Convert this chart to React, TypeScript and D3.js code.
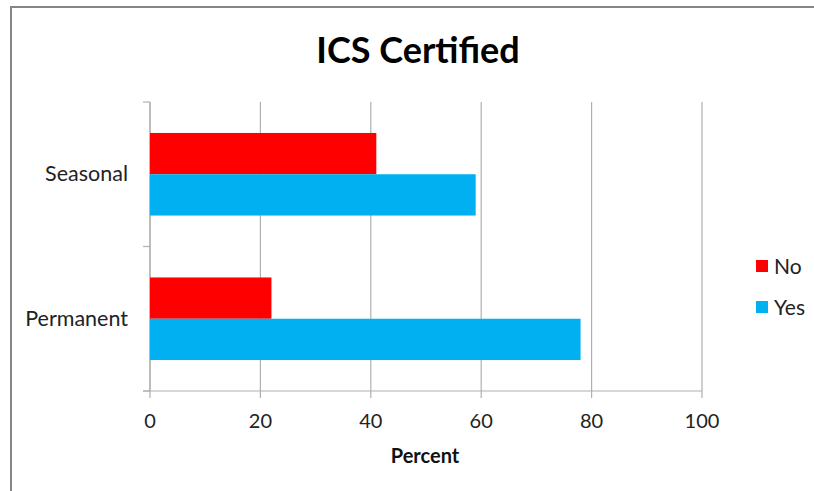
import { useEffect, useRef } from 'react';
import * as d3 from 'd3';

const categories = ['Seasonal', 'Permanent'];
const seriesNames = ['No', 'Yes'];
const noValues = [41, 22];
const yesValues = [59, 78];
const xTicks = [0, 20, 40, 60, 80, 100];

const colors: Record<string, string> = { No: '#FF0000', Yes: '#00B0F0' };
const FONT = 'Lato, "Open Sans", sans-serif';
const GRID = '#B0B0B0';

export default function App() {
  const svgRef = useRef<SVGSVGElement>(null);

  useEffect(() => {
    if (!svgRef.current) return;
    const svg = d3.select(svgRef.current);
    svg.selectAll('*').remove();

    const left = 150, right = 702, top = 102, bottom = 391;

    // outer chart border: only left and top edges are inside the crop
    svg.append('path')
      .attr('d', 'M11,491 L11,7 L814,7')
      .attr('fill', 'none')
      .attr('stroke', '#868686')
      .attr('stroke-width', 2);

    const x = d3.scaleLinear().domain([0, 100]).range([left, right]);
    const y = d3.scaleBand().domain(categories).range([top, bottom]);
    // gap width 150%: band = 2 bars + 1.5 bar
    const barH = y.bandwidth() / 3.5;
    const inner = d3.scaleBand().domain(seriesNames).range([0, barH * 2]);

    // gridlines
    xTicks.forEach(t => {
      svg.append('line')
        .attr('x1', x(t)).attr('x2', x(t))
        .attr('y1', top).attr('y2', bottom + 7)
        .attr('stroke', GRID).attr('stroke-width', 1.2);
    });

    // left axis line + ticks
    svg.append('line')
      .attr('x1', left).attr('x2', left).attr('y1', top).attr('y2', bottom)
      .attr('stroke', GRID).attr('stroke-width', 1.2);
    [top, ...categories.map(c => (y(c) as number) + y.bandwidth())].forEach(v => {
      svg.append('line')
        .attr('x1', left - 7).attr('x2', left).attr('y1', v).attr('y2', v)
        .attr('stroke', GRID).attr('stroke-width', 1.2);
    });

    // bars
    const rows = categories.map((c, i) => ({ cat: c, No: noValues[i], Yes: yesValues[i] }));
    rows.forEach(r => {
      const y0 = (y(r.cat) as number) + (y.bandwidth() - barH * 2) / 2;
      seriesNames.forEach(s => {
        svg.append('rect')
          .attr('x', x(0))
          .attr('y', y0 + (inner(s) as number))
          .attr('width', x((r as any)[s]) - x(0))
          .attr('height', inner.bandwidth())
          .attr('fill', colors[s]);
      });
    });

    // bottom axis line
    svg.append('line')
      .attr('x1', left - 7).attr('x2', right).attr('y1', bottom).attr('y2', bottom)
      .attr('stroke', GRID).attr('stroke-width', 1.2);

    // tick labels
    xTicks.forEach(t => {
      svg.append('text')
        .attr('x', x(t)).attr('y', 428)
        .attr('text-anchor', 'middle')
        .attr('font-family', FONT).attr('font-size', 20)
        .attr('fill', '#222')
        .text(String(t));
    });

    categories.forEach(c => {
      svg.append('text')
        .attr('x', 128)
        .attr('y', (y(c) as number) + y.bandwidth() / 2 + 7)
        .attr('text-anchor', 'end')
        .attr('font-family', FONT).attr('font-size', 21.5)
        .attr('fill', '#222')
        .text(c);
    });

    // title
    svg.append('text')
      .attr('x', 418).attr('y', 63)
      .attr('text-anchor', 'middle')
      .attr('font-family', FONT).attr('font-size', 36).attr('font-weight', 700)
      .attr('fill', '#000')
      .text('ICS Certified');

    // axis title
    svg.append('text')
      .attr('x', 425).attr('y', 463)
      .attr('text-anchor', 'middle')
      .attr('font-family', FONT).attr('font-size', 20).attr('font-weight', 700)
      .attr('fill', '#111')
      .text('Percent');

    // legend
    const legend = svg.append('g').attr('transform', 'translate(756, 260)');
    seriesNames.forEach((s, i) => {
      const g = legend.append('g').attr('transform', `translate(0, ${i * 41})`);
      g.append('rect').attr('width', 12).attr('height', 12).attr('fill', colors[s]);
      g.append('text')
        .attr('x', 18).attr('y', 13.5)
        .attr('font-family', FONT).attr('font-size', 21)
        .attr('fill', '#222')
        .text(s);
    });
  }, []);

  return (
    <svg
      ref={svgRef}
      width={814}
      height={491}
      viewBox="0 0 814 491"
      style={{ position: 'absolute', left: 0, top: 0, display: 'block', background: '#fff' }}
    />
  );
}
